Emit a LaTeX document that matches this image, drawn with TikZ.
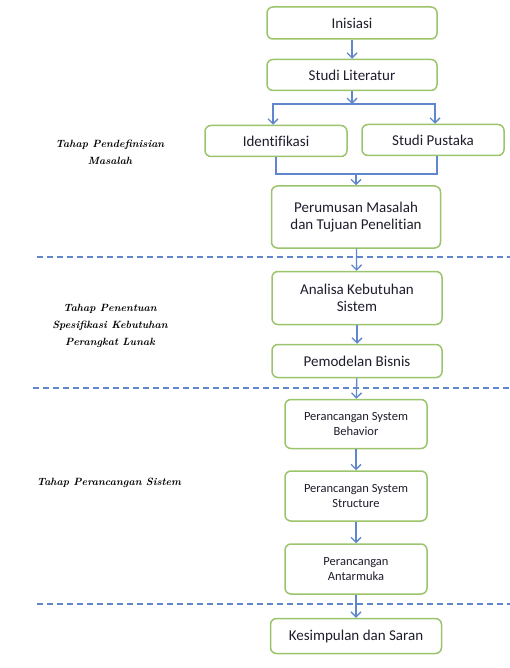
\documentclass[tikz,border=0pt]{standalone}
\usepackage{fontspec}
\setsansfont{Carlito}[Ligatures=NoCommon]
\usetikzlibrary{arrows.meta, positioning}

\definecolor{boxgreen}{RGB}{155,196,108}
\definecolor{lineblue}{RGB}{96,134,206}
\definecolor{txtdark}{RGB}{30,30,45}

\begin{document}
\begin{tikzpicture}[x=1pt, y=-1pt,
    box/.style={draw=boxgreen, line width=1.5pt, rounded corners=6pt, fill=white,
      inner sep=0pt, align=center, font=\sffamily\fontsize{15}{17}\selectfont, text=txtdark},
    smallbox/.style={box, font=\sffamily\fontsize{12.5}{15}\selectfont},
    arr/.style={draw=lineblue, line width=1.3pt, -{Straight Barb[length=5pt,width=10pt]}},
    link/.style={draw=lineblue, line width=1.3pt},
    sep/.style={draw=lineblue, line width=1.3pt, dash pattern=on 6pt off 4pt},
    phase/.style={align=center, text=black, font=\bfseries\itshape\fontsize{10.5}{17}\selectfont}]
  \useasboundingbox (0,0) rectangle (510,668);

  % kotak alur
  \node[box, minimum width=170pt, minimum height=32pt] (inisiasi) at (352,23) {Inisiasi};
  \node[box, minimum width=170pt, minimum height=31pt] (studi) at (352,75) {Studi Literatur};
  \node[box, minimum width=142pt, minimum height=31pt] (ident) at (276,141) {Identifikasi};
  \node[box, minimum width=142pt, minimum height=31pt] (pustaka) at (433,140) {Studi Pustaka};
  \node[box, minimum width=169pt, minimum height=62pt] (rumusan) at (356,217) {Perumusan Masalah\\dan Tujuan Penelitian};
  \node[box, minimum width=170pt, minimum height=53pt] (analisa) at (357,298) {Analisa Kebutuhan\\Sistem};
  \node[box, minimum width=170pt, minimum height=33pt] (bisnis) at (357,361) {Pemodelan Bisnis};
  \node[smallbox, minimum width=142pt, minimum height=49pt] (behavior) at (356,424) {Perancangan System\\Behavior};
  \node[smallbox, minimum width=142pt, minimum height=50pt] (structure) at (356,496) {Perancangan System\\Structure};
  \node[smallbox, minimum width=142pt, minimum height=50pt] (antarmuka) at (356,569) {Perancangan\\Antarmuka};
  \node[box, minimum width=171pt, minimum height=35pt] (kesimpulan) at (356,636) {Kesimpulan dan Saran};

  % label tahap
  \node[phase] (tahap1) at (110,152) {Tahap Pendefinisian\\Masalah};
  \node[phase] (tahap2) at (110,326) {Tahap Penentuan\\Spesifikasi Kebutuhan\\Perangkat Lunak};
  \node[phase] (tahap3) at (109,483) {Tahap Perancangan Sistem};

  % garis pemisah tahap
  \draw[sep] (37,257) -- (510,257);
  \draw[sep] (33,388) -- (510,388);
  \draw[sep] (37,604) -- (510,604);

  % panah
  \coordinate (split) at (352,104);
  \coordinate (merge) at (356,174);
  \draw[arr] (inisiasi) -- (studi);
  \draw[arr] (studi) -- (split);
  \draw[arr] (split) -| ([xshift=-3pt]ident.north);
  \draw[arr] (split) -| ([xshift=2pt]pustaka.north);
  \draw[link] (ident.south) |- (merge);
  \draw[link] ([xshift=4pt]pustaka.south) |- (merge);
  \draw[arr] (merge) -- (rumusan);
  \draw[arr] (rumusan) -- (analisa);
  \draw[arr] (analisa) -- (bisnis);
  \draw[arr] (bisnis) -- (behavior);
  \draw[arr] (behavior) -- (structure);
  \draw[arr] (structure) -- (antarmuka);
  \draw[arr] (antarmuka) -- (kesimpulan);
\end{tikzpicture}
\end{document}
